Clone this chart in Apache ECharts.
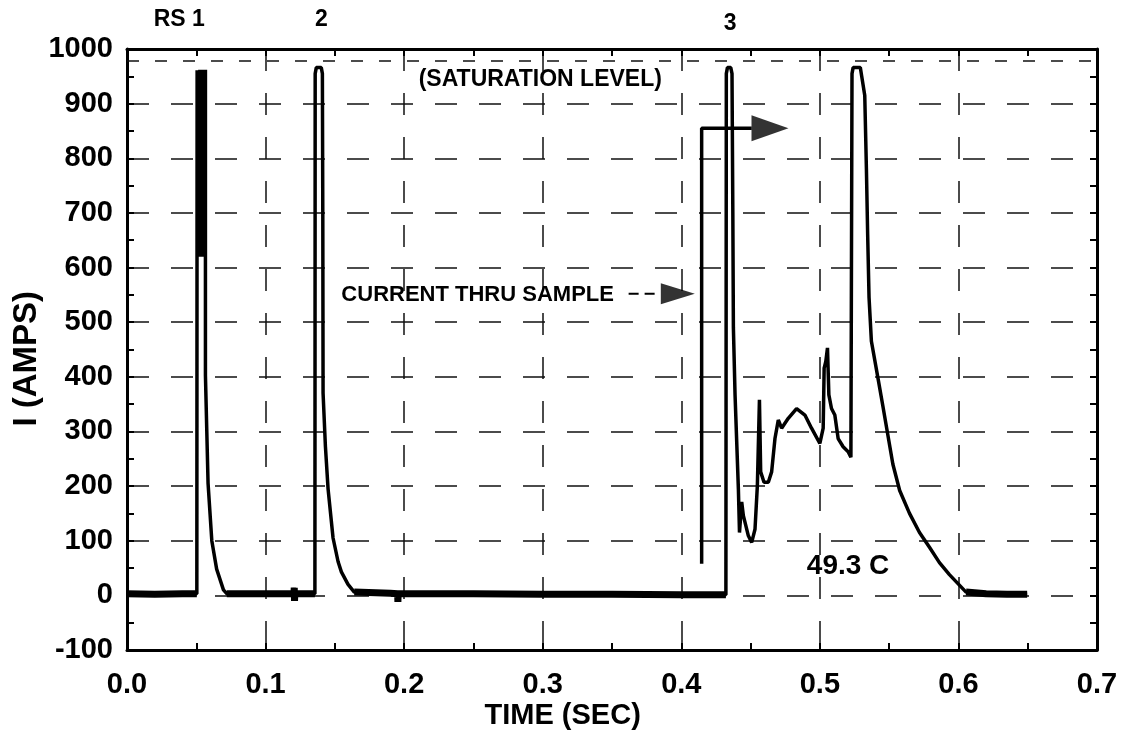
<!DOCTYPE html>
<html><head><meta charset="utf-8">
<script src="https://cdn.jsdelivr.net/npm/echarts@6/dist/echarts.min.js"></script>
<style>html,body{margin:0;padding:0;background:#fff}#c{width:1121px;height:734px}</style>
</head><body><div id="c"></div>
<script>
// ---- DATA (time in s, current in A) ----
const baseline1 = [[0,3],[0.02,2],[0.04,3],[0.0504,3]];
const pulse1 = [[0.0506,961],[0.0516,620],[0.0526,962],[0.0536,620],[0.0546,962],[0.0556,620],[0.0566,962],[0.0576,961],[0.0566,403],[0.0585,205],[0.0612,100],[0.0647,48],[0.0696,10],[0.072,3]];
const baseline2 = [[0.072,3],[0.09,3],[0.11,3],[0.1205,3],[0.1207,14],[0.1209,-10],[0.1211,3],[0.1356,3]];
const pulse2 = [[0.1358,955],[0.1366,966],[0.1402,966],[0.141,955],[0.1413,700],[0.1415,370],[0.1432,272],[0.1451,195],[0.1487,105],[0.1523,62],[0.1547,43],[0.1595,20],[0.164,6]];
const baseline3 = [[0.164,6],[0.19,4],[0.1953,3],[0.1955,-12],[0.1957,3],[0.25,3],[0.3,2],[0.35,2],[0.4,1],[0.4322,1]];
const pulse3 = [[0.4325,955],[0.4333,966],[0.4357,966],[0.4366,955],[0.4372,700],[0.4376,490],[0.4388,367],[0.4412,195],[0.442,115],[0.4436,171],[0.4448,146],[0.4484,109],[0.4508,97],[0.4532,121],[0.4549,201],[0.4564,358],[0.4573,226],[0.4597,207],[0.4628,207],[0.4652,226],[0.4676,287],[0.47,321],[0.4724,306],[0.4772,324],[0.4832,342],[0.4892,330],[0.494,306],[0.5,278],[0.5024,306],[0.5031,416],[0.5043,428],[0.5055,453],[0.5065,367],[0.5084,342],[0.5108,330],[0.5132,287],[0.5168,272],[0.5204,263],[0.5224,253]];
const pulse4 = [[0.5232,955],[0.524,966],[0.5292,966],[0.5302,950],[0.5324,915],[0.5336,780],[0.5345,660],[0.5355,545],[0.5372,465],[0.5419,398],[0.5455,346],[0.5491,293],[0.5527,240],[0.5576,192],[0.5647,150],[0.5719,115],[0.5791,88],[0.5863,60],[0.5935,38],[0.5995,22],[0.6055,6]];
const baseline4 = [[0.6055,6],[0.62,3],[0.635,2],[0.6496,2]];

const sampleCurrentLine = [[0.4147,58],[0.4147,855],[0.4508,855]];
const sampleArrowShaft = [[0.362,552],[0.385,552]];
const arrowHeads = [[0.464,855],[0.3975,552]];
const saturationLevel = 978;

const xTicks = ['0.0','0.1','0.2','0.3','0.4','0.5','0.6','0.7'];
const yTicks = [-100,0,100,200,300,400,500,600,700,800,900,1000];

// labels: [text, t, align]
const pulseLabels = [['RS 1',0.0562,'right'],['2',0.1403,'center'],['3',0.4353,'center']];
// notes: [text, t, I]
const noteLabels = [['(SATURATION LEVEL)',0.2105,944],['CURRENT THRU SAMPLE',0.1547,550],['49.3 C',0.4906,53]];

// ---- CHART ----
const FONT = 'Liberation Sans';
const trace = [].concat(baseline1,pulse1,baseline2,pulse2,baseline3,pulse3,pulse4,baseline4);
const baseNoise = [].concat(baseline1,[[null,null]],baseline2,[[null,null]],baseline3,[[null,null]],baseline4);

const chart = echarts.init(document.getElementById('c'));
const gridLine = {show:true,lineStyle:{color:'#111',width:1.5,type:[22,22]}};
const xMain = {type:'value',min:0,max:0.7,interval:0.1,
  axisLine:{onZero:false,lineStyle:{color:'#000',width:3}},
  axisTick:{inside:true,length:7,lineStyle:{color:'#000',width:2}},
  minorTick:{show:true,splitNumber:2,length:7,lineStyle:{color:'#000',width:2}},
  splitLine:gridLine,
  axisLabel:{margin:20,color:'#000',fontFamily:FONT,fontWeight:'bold',fontSize:29,
    formatter:(v)=>xTicks[Math.round(v*10)]}};
const yMain = {type:'value',min:-100,max:1000,interval:100,
  axisLine:{onZero:false,lineStyle:{color:'#000',width:3}},
  axisTick:{inside:true,length:7,lineStyle:{color:'#000',width:2}},
  minorTick:{show:true,splitNumber:2,length:7,lineStyle:{color:'#000',width:2}},
  splitLine:gridLine,
  axisLabel:{margin:14,color:'#000',fontFamily:FONT,fontWeight:'bold',fontSize:29,
    formatter:(v)=>String(yTicks[Math.round((v+100)/100)])}};
chart.setOption({
  animation:false,
  backgroundColor:'#fff',
  grid:{left:127,right:24,top:49,bottom:84},
  xAxis:[xMain,Object.assign({},xMain,{position:'top',axisLabel:{show:false},splitLine:{show:false}})],
  yAxis:[yMain,Object.assign({},yMain,{position:'right',axisLabel:{show:false},splitLine:{show:false}})],
  series:[
    {type:'line',data:trace,showSymbol:false,lineStyle:{color:'#000',width:3.5},
     markLine:{silent:true,symbol:'none',label:{show:false},lineStyle:{color:'#111',width:1.5,type:[12,16]},data:[{yAxis:saturationLevel}]}},
    {type:'line',data:baseNoise,showSymbol:false,connectNulls:false,lineStyle:{color:'#000',width:7}},
    {type:'line',data:sampleCurrentLine,showSymbol:false,lineStyle:{color:'#000',width:3.5}},
    {type:'line',data:sampleArrowShaft,showSymbol:false,lineStyle:{color:'#000',width:2,type:[10,6]}},
    {type:'scatter',data:arrowHeads,symbol:'path://M0,0L10,5L0,10Z',symbolKeepAspect:false,
     symbolSize:(v,p)=>p.dataIndex===0?[37,26]:[34,21],itemStyle:{color:'#000'}}
  ]
});

const px = (t,v)=>chart.convertToPixel({xAxisIndex:0,yAxisIndex:0},[t,v]);
const g = [];
const topY = px(0,1000)[1];
pulseLabels.forEach(([txt,t,al],i)=>{
  const p = px(t,0);
  g.push({type:'text',x:p[0],y:topY-(i===2?25:29),style:{text:txt,fill:'#000',font:'bold 23px "'+FONT+'"',textAlign:al,textVerticalAlign:'middle'}});
});
noteLabels.forEach(([txt,t,v],i)=>{
  const p = px(t,v);
  g.push({type:'text',x:p[0],y:p[1],style:{text:txt,fill:'#000',font:'bold '+([23,22,28][i])+'px "'+FONT+'"',textAlign:'left',textVerticalAlign:'middle'}});
});
const bot = px(0,-100)[1];
g.push({type:'text',x:px(0.3144,0)[0],y:bot+66,style:{text:'TIME (SEC)',fill:'#000',font:'bold 29px "'+FONT+'"',textAlign:'center',textVerticalAlign:'middle'}});
g.push({type:'text',x:27,y:px(0,433)[1],rotation:Math.PI/2,style:{text:'I (AMPS)',fill:'#000',font:'bold 33px "'+FONT+'"',textAlign:'center',textVerticalAlign:'middle'}});
chart.setOption({graphic:g});
</script></body></html>
